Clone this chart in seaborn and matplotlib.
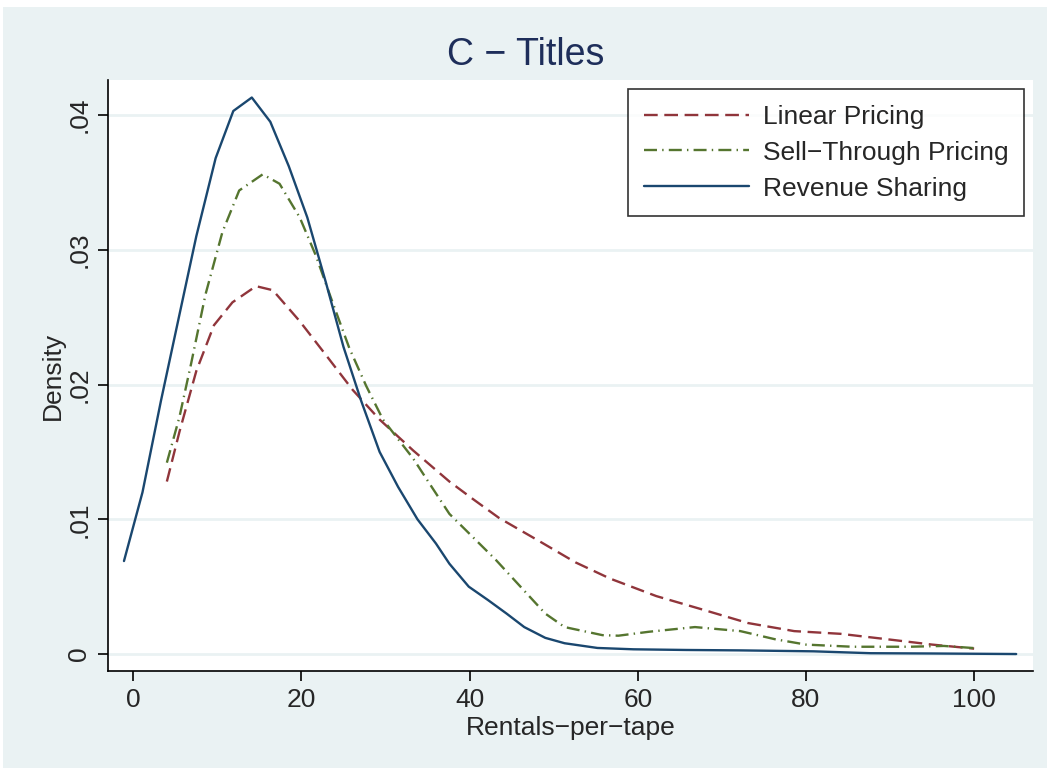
import numpy as np
import pandas as pd
import seaborn as sns
import matplotlib.pyplot as plt
from matplotlib.patches import Rectangle

# Werte
lin_x = [4.0, 5.5, 7.5, 9.6, 11.8, 14.6, 16.6, 19.8, 22.9, 26.1, 29.3, 33.3, 37.6,
         40.4, 43.5, 48.5, 52.6, 56.7, 62.2, 67.7, 73.1, 78.6, 84.1, 89.6, 95.0, 100.0]
lin_y = [.0128, .0165, .0210, .0244, .0261, .0273, .0270, .0247, .0222, .0196, .0174, .0151, .0128,
         .0115, .0101, .0083, .0068, .0056, .0043, .0033, .0023, .0017, .0015, .0011, .0007, .0004]

sell_x = [4.0, 5.5, 6.9, 8.6, 10.6, 12.6, 15.4, 17.4, 19.8, 21.7, 23.7, 25.7, 27.7, 29.7, 33.3,
          35.6, 37.6, 43.1, 49.0, 51.3, 55.8, 57.7, 61.3, 66.8, 72.2, 76.3, 80.0, 85.5, 92.3, 96.4, 100.0]
sell_y = [.0142, .0176, .0216, .0267, .0313, .0344, .0356, .0349, .0324, .0296, .0261, .0227, .0199, .0174, .0145,
          .0123, .0104, .0070, .0030, .0020, .0014, .00136, .00165, .0020, .0017, .0011, .0007, .00054, .00054, .0006, .00044]

rev_x = [-1.1, 1.1, 3.3, 5.5, 7.5, 9.8, 11.9, 14.1, 16.3, 18.5, 20.7, 22.9, 25.0, 27.1, 29.3, 31.5,
         33.8, 36.0, 37.6, 39.9, 42.2, 44.4, 46.5, 49.0, 51.3, 55.2, 59.5, 65.8, 72.2, 80.9, 87.7, 95.0, 105.0]
rev_y = [.0069, .0120, .0188, .0252, .0310, .0368, .0403, .0413, .0395, .0362, .0324, .0276, .0228, .0188, .0150, .0124,
         .0100, .0082, .0067, .0050, .0040, .0030, .0020, .0012, .0008, .00045, .00035, .0003, .00027, .0002, .00006, .00004, 0.0]

sns.set_style('white')
plt.rcParams['font.family'] = ['Liberation Sans', 'DejaVu Sans']

bg = '#EAF2F3'
fig = plt.figure(figsize=(10.51, 7.72), dpi=100)
fig.patch.set_facecolor('white')
fig.patches.append(Rectangle((3/1051, 4/772), 1044/1051, 761/772, transform=fig.transFigure,
                             facecolor=bg, edgecolor='none', zorder=-1))

ax = fig.add_axes([108/1051, 101/772, 925/1051, 591/772])
ax.set_facecolor('white')

for yv in [0, .01, .02, .03, .04]:
    ax.axhline(yv, color=bg, lw=2, zorder=0)

df_lin = pd.DataFrame({'x': lin_x, 'y': lin_y})
df_sell = pd.DataFrame({'x': sell_x, 'y': sell_y})
df_rev = pd.DataFrame({'x': rev_x, 'y': rev_y})

sns.lineplot(data=df_lin, x='x', y='y', ax=ax, color='#90353B', lw=1.7,
             label='Linear Pricing', sort=False)
sns.lineplot(data=df_sell, x='x', y='y', ax=ax, color='#55752F', lw=1.7,
             label='Sell\u2212Through Pricing', sort=False)
sns.lineplot(data=df_rev, x='x', y='y', ax=ax, color='#1A476F', lw=1.7,
             label='Revenue Sharing', sort=False)
ax.lines[-3].set_linestyle((0, (5.8, 2.8)))
ax.lines[-2].set_linestyle((0, (5.5, 2.2, 0.6, 2.2)))

ax.set_xlim(-3, 107)
ax.set_ylim(-0.00126, 0.0426)
ax.set_xticks([0, 20, 40, 60, 80, 100])
ax.set_yticks([0, .01, .02, .03, .04])
ax.set_yticklabels(['0', '.01', '.02', '.03', '.04'], rotation=90, va='center')
ax.tick_params(axis='both', labelsize=19, length=7, width=1.2, color='black', direction='out',
               left=True, bottom=True, pad=5)
for s in ['top', 'right']:
    ax.spines[s].set_visible(False)
for s in ['left', 'bottom']:
    ax.spines[s].set_color('black')
    ax.spines[s].set_linewidth(1.2)

ax.set_xlabel('Rentals\u2212per\u2212tape', fontsize=19, labelpad=3)
ax.set_ylabel('Density', fontsize=19, labelpad=2)
fig.text(0.5, 0.929, 'C \u2212 Titles', ha='center', va='center', fontsize=27, color='#1E2E5A')

leg = ax.legend(loc='upper right', fontsize=19, frameon=True, fancybox=False,
                handlelength=4.0, handletextpad=0.5, borderpad=0.6, labelspacing=0.45,
                borderaxespad=0)
leg.set_bbox_to_anchor((1024/1051, 1 - 89/772), transform=fig.transFigure)
leg.get_frame().set_edgecolor('black')
leg.get_frame().set_linewidth(1.2)

plt.savefig('out.png', dpi=100, facecolor=fig.get_facecolor())
